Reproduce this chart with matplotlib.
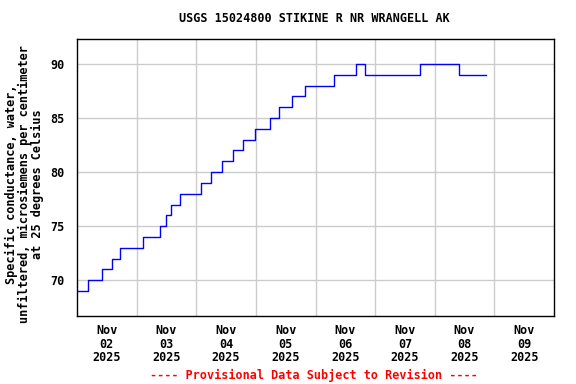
import numpy as np
import matplotlib
matplotlib.use("Agg")
import matplotlib.pyplot as plt
import matplotlib.dates as mdates

# times where the reading changes, and the value from that time on
change_times = ["2025-11-02 00:00", "2025-11-02 04:30", "2025-11-02 10:15",
                "2025-11-02 14:15", "2025-11-02 17:30", "2025-11-03 02:30",
                "2025-11-03 09:30", "2025-11-03 11:45", "2025-11-03 14:00",
                "2025-11-03 17:30", "2025-11-04 01:45", "2025-11-04 06:00",
                "2025-11-04 10:30", "2025-11-04 14:45", "2025-11-04 19:00",
                "2025-11-04 23:45", "2025-11-05 05:30", "2025-11-05 09:30",
                "2025-11-05 14:30", "2025-11-05 19:45", "2025-11-06 07:30",
                "2025-11-06 16:30", "2025-11-06 19:45", "2025-11-07 18:15",
                "2025-11-08 09:45", "2025-11-08 20:30"]
cond_values = [69, 70, 71, 72, 73, 74, 75, 76, 77, 78, 79, 80, 81, 82, 83,
               84, 85, 86, 87, 88, 89, 90, 89, 90, 89, 89]

y_ticks = [70, 75, 80, 85, 90]
day_labels = ["Nov\n02\n2025", "Nov\n03\n2025", "Nov\n04\n2025", "Nov\n05\n2025",
              "Nov\n06\n2025", "Nov\n07\n2025", "Nov\n08\n2025", "Nov\n09\n2025"]

t = np.array(change_times, dtype="datetime64[m]")

font = "DejaVu Sans Mono"
fig = plt.figure(figsize=(5.76, 3.84), dpi=100)
ax = fig.add_axes([77/576, 1-316/384, (554-77)/576, (316-39)/384])

ax.step(t, cond_values, where="post", color="#0000ff", lw=1.0)

ax.set_xlim(np.datetime64("2025-11-02T00:00"), np.datetime64("2025-11-10T00:00"))
ax.set_ylim(66.7, 92.3)

# labels at noon, grid at midnight
noon = np.arange(np.datetime64("2025-11-02T12:00"), np.datetime64("2025-11-10T00:00"),
                 np.timedelta64(1, "D"))
midnight = np.arange(np.datetime64("2025-11-03T00:00"), np.datetime64("2025-11-10T00:00"),
                     np.timedelta64(1, "D"))
ax.set_xticks(mdates.date2num(noon))
ax.set_xticklabels(day_labels)
ax.set_xticks(mdates.date2num(midnight), minor=True)
ax.set_yticks(y_ticks)

ax.grid(True, which="minor", axis="x", color="#cccccc", lw=1)
ax.grid(True, which="major", axis="y", color="#cccccc", lw=1)
ax.set_axisbelow(True)
ax.tick_params(axis="both", which="both", length=0)
ax.tick_params(axis="x", pad=6)
ax.tick_params(axis="y", pad=9)
for lab in ax.get_xticklabels() + ax.get_yticklabels():
    lab.set_fontfamily(font)
    lab.set_fontweight("bold")
    lab.set_fontsize(8.5)
    lab.set_linespacing(1.05)
for s in ax.spines.values():
    s.set_linewidth(1)

fig.text(24.5/576, 1-184/384,
         "Specific conductance, water,\nunfiltered, microsiemens per centimeter\nat 25 degrees Celsius",
         rotation=90, ha="center", va="center", multialignment="center",
         fontfamily=font, fontweight="bold", fontsize=8.6, linespacing=0.98)

fig.text(314/576, 1-19/384, "USGS 15024800 STIKINE R NR WRANGELL AK", ha="center", va="center",
         fontfamily=font, fontweight="bold", fontsize=8.5)
fig.text(314/576, 1-375/384, "---- Provisional Data Subject to Revision ----", ha="center",
         va="center", color="red", fontfamily=font, fontweight="bold", fontsize=8.5)

fig.savefig("out.png", dpi=100)
